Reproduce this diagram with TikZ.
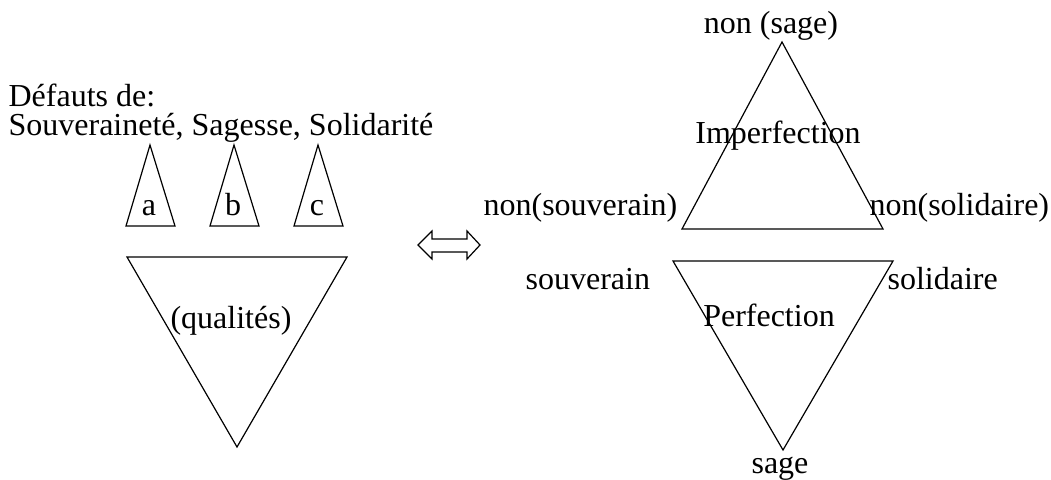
\documentclass[tikz,border=0pt]{standalone}
\usepackage{fontspec}
\setmainfont{Liberation Serif}
\usepackage{tikz}
\usetikzlibrary{positioning}
\tikzset{
  every picture/.style={line width=1.2pt},
  lbl/.style={inner sep=0pt, font=\fontsize{32}{38}\selectfont},
  tri/.style={draw=black, line join=miter},
  blockarrow/.style={draw=black, fill=white}
}

\begin{document}
\begin{tikzpicture}[x=1pt,y=-1pt]
  \useasboundingbox (0,0) rectangle (1051,479);

  % gauche : defauts et qualites
  \node[lbl, font=\fontsize{32}{28.5}\selectfont, align=left, anchor=base west] (defauts) at (8,135)
    {Défauts de:\\Souveraineté, Sagesse, Solidarité};

  \foreach \x/\t in {150/a,234/b,318/c} {
    \draw[tri] (\x,145) -- (\x+25,226) -- (\x-24,226) -- cycle;
    \node[lbl, anchor=base] (def\t) at (\x-1,215) {\t};
  }

  \draw[tri] (127,257) -- (347,257) -- (237,447) -- cycle;
  \node[lbl, anchor=base] (qualites) at (231,328) {(qualités)};

  % equivalence
  \draw[blockarrow] (418,245) -- (432,231) -- (432,239) -- (467,239) -- (467,231)
    -- (480,245) -- (467,259) -- (467,252) -- (432,252) -- (432,259) -- cycle;

  % droite : imperfection / perfection
  \draw[tri] (782,42) -- (883,229) -- (682,229) -- cycle;
  \draw[tri] (673,261) -- (893,261) -- (783,450) -- cycle;

  \node[lbl, anchor=base] (nonsage) at (771,33) {non (sage)};
  \node[lbl, anchor=base] (imperf) at (778,143) {Imperfection};
  \node[lbl, anchor=base west] (nonsouv) at (483,215) {non(souverain)};
  \node[lbl, anchor=base west] (nonsolid) at (869,215) {non(solidaire)};
  \node[lbl, anchor=base west] (souv) at (525,289) {souverain};
  \node[lbl, anchor=base west] (solid) at (887,289) {solidaire};
  \node[lbl, anchor=base] (perf) at (769,326) {Perfection};
  \node[lbl, anchor=base] (sage) at (780,473) {sage};
\end{tikzpicture}
\end{document}
